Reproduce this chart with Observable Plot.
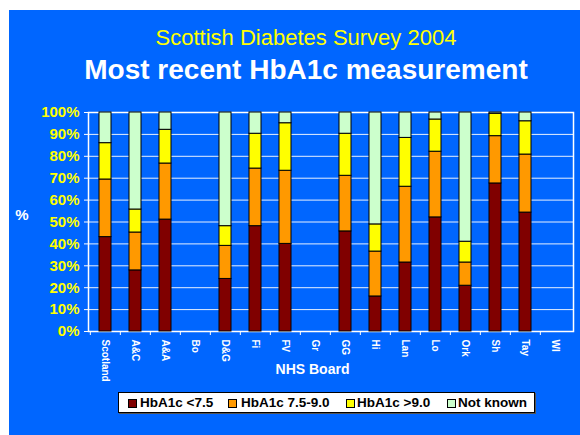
<!DOCTYPE html>
<html>
<head>
<meta charset="utf-8">
<script src="https://cdn.jsdelivr.net/npm/d3@7"></script>
<script src="https://cdn.jsdelivr.net/npm/@observablehq/plot@0.6"></script>
<style>
  body { margin: 0; background: #ffffff; }
  #wrap { position: relative; width: 580px; height: 435px; overflow: hidden; font-family: "Liberation Sans", Arial, sans-serif; }
  #bg { position: absolute; left: 9px; top: 10px; right: 0; bottom: 0; background: #0066ff; }
  #chart { position: absolute; left: 0; top: 0; }
  .t { position: absolute; line-height: 1; white-space: nowrap; }
  #legend { position: absolute; left: 118px; top: 392px; width: 415px; height: 19px; background: #fff; border: 1px solid #000; box-shadow: 1px 1px 0 #555; }
  .sw { position: absolute; width: 7px; height: 7px; border: 1px solid #000; }
  .lt { position: absolute; font-size: 13.5px; font-weight: bold; color: #000; line-height: 1; }
</style>
</head>
<body>
<div id="wrap">
  <div id="bg"></div>
  <div id="chart"></div>
  <div class="t" style="left:0;width:612px;text-align:center;top:27px;font-size:22px;color:#ffff00;">Scottish Diabetes Survey 2004</div>
  <div class="t" style="left:0;width:612px;text-align:center;top:56px;font-size:28px;font-weight:bold;color:#ffffff;">Most recent HbA1c measurement</div>
  <div class="t" style="left:0;width:44px;text-align:center;top:207px;font-size:15px;font-weight:bold;color:#ffffff;">%</div>
  <div class="t" style="left:0;width:625px;text-align:center;top:362px;font-size:14px;font-weight:bold;color:#ffffff;">NHS Board</div>
  <div id="legend"></div>
</div>
<script>
const boards = ["Scotland","A&C","A&A","Bo","D&G","Fi","FV","Gr","GG","Hi","Lan","Lo","Ork","Sh","Tay","WI"];
const seriesNames = ["HbA1c <7.5","HbA1c 7.5-9.0","HbA1c >9.0","Not known"];
const seriesColors = ["#800000","#ff9900","#ffff00","#ccffcc"];
const below75   = [43.1, 27.9, 51.1, null, 24.0, 48.1, 40.0, null, 45.7, 16.0, 31.5, 52.1, 20.9, 67.6, 54.3, null];
const from75to9 = [26.3, 17.3, 25.6, null, 15.1, 26.3, 33.4, null, 25.4, 20.5, 34.6, 30.0, 10.6, 21.6, 26.5, null];
const above9    = [16.6, 10.5, 15.4, null,  9.0, 15.9, 21.7, null, 19.2, 12.4, 22.3, 14.7,  9.5, 10.2, 15.2, null];
const notKnown  = [14.0, 44.3,  7.9, null, 51.9,  9.7,  4.9, null,  9.7, 51.1, 11.6,  3.2, 59.0,  0.6,  4.0, null];
const yTicks = [0,10,20,30,40,50,60,70,80,90,100];

const seriesValues = [below75, from75to9, above9, notKnown];
const rows = [];
seriesNames.forEach((s, si) => {
  boards.forEach((b, bi) => {
    const v = seriesValues[si][bi];
    if (v != null) rows.push({board: b, series: s, value: v});
  });
});

const W = 580, H = 435, mL = 88, mR = 7, mT = 112, mB = 104;
const step = (W - mL - mR) / boards.length;

const chart = Plot.plot({
  width: W, height: H,
  marginLeft: mL, marginRight: mR, marginTop: mT, marginBottom: mB,
  style: { background: "transparent", color: "white", fontFamily: "Liberation Sans, Arial, sans-serif" },
  x: { type: "band", domain: boards, paddingInner: 0.594, paddingOuter: 0.297, label: null },
  y: { domain: [0, 100], label: null },
  color: { domain: seriesNames, range: seriesColors },
  marks: [
    Plot.gridY(yTicks, { stroke: "white", strokeOpacity: 0.9 }),
    Plot.frame({ stroke: "white", strokeWidth: 1.5 }),
    Plot.barY(rows, { x: "board", y: "value", fill: "series", stroke: "black", strokeWidth: 1 }),
    Plot.ruleX(boards, { x: d => d, dx: -step / 2, stroke: "white", insetTop: H - mT - mB, insetBottom: -4 }),
    Plot.axisY(yTicks, { tickSize: 4, tickPadding: 5, tickFormat: d => d + "%", fill: "#ffff00", stroke: "white", fontSize: 15, fontWeight: "bold", label: null }),
    Plot.axisX({ tickSize: 0, tickPadding: 8, tickRotate: 90, fill: "white", fontSize: 10, fontWeight: "bold", label: null })
  ]
});
document.getElementById("chart").appendChild(chart);

const legend = document.getElementById("legend");
const swLeft = [9, 109, 227, 328];
const txLeft = [21, 122, 238, 339];
seriesNames.forEach((s, i) => {
  const sw = document.createElement("div");
  sw.className = "sw";
  sw.style.left = swLeft[i] + "px";
  sw.style.top = "6px";
  sw.style.background = seriesColors[i];
  legend.appendChild(sw);
  const t = document.createElement("div");
  t.className = "lt";
  t.style.left = txLeft[i] + "px";
  t.style.top = "3px";
  t.textContent = s;
  legend.appendChild(t);
});
</script>
</body>
</html>
